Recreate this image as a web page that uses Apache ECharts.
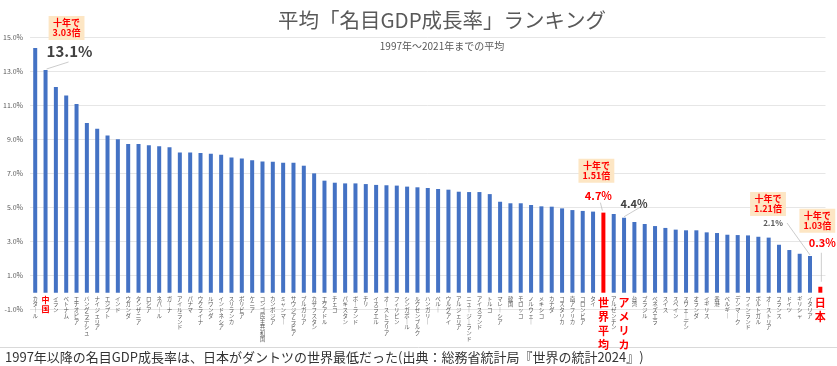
<!DOCTYPE html>
<html>
<head>
<meta charset="utf-8">
<script src="https://cdn.jsdelivr.net/npm/echarts@6/dist/echarts.min.js"></script>
<style>
html,body{margin:0;padding:0;background:#fff;}
#c{width:837px;height:366px;}
</style>
</head>
<body>
<div id="c"></div>
<script>
const categories = [
 'カタール','中国','イラン','ベトナム','エチオピア','バングラデシュ','ナイジェリア','エジプト','インド','ウガンダ',
 'タンザニア','ロシア','ネパール','ガーナ','アイルランド','パナマ','ウクライナ','ルワンダ','インドネシア','スリランカ',
 'ボリビア','ケニア','コンゴ民主共和国','カンボジア','ミャンマー','サウジアラビア','ブルガリア','カザフスタン','エクアドル','チェコ',
 'パキスタン','ポーランド','チリ','イスラエル','オーストラリア','フィリピン','シンガポール','ルクセンブルク','ハンガリー','ペルー',
 'ウルグアイ','アルジェリア','ニュージーランド','アイスランド','トルコ','マレーシア','韓国','モロッコ','ノルウェー','メキシコ',
 'カナダ','コスタリカ','南アフリカ','コロンビア','タイ','世界平均','アルゼンチン','アメリカ','台湾','ブラジル',
 'ベネズエラ','スイス','スペイン','スウェーデン','オランダ','イギリス','香港','ベルギー','デンマーク','フィンランド',
 'ポルトガル','オーストリア','フランス','ドイツ','ギリシャ','イタリア','日本'
];
const values = [
 14.4,13.1,12.1,11.6,11.1,9.98,9.65,9.24,9.02,8.75,
 8.75,8.67,8.61,8.55,8.24,8.24,8.22,8.18,8.12,7.96,
 7.90,7.79,7.72,7.70,7.65,7.65,7.47,7.02,6.59,6.47,
 6.43,6.43,6.39,6.34,6.32,6.30,6.24,6.20,6.16,6.10,
 6.06,5.94,5.92,5.92,5.80,5.35,5.26,5.26,5.16,5.08,
 5.06,4.96,4.86,4.81,4.77,4.71,4.63,4.41,4.16,4.04,
 3.92,3.81,3.71,3.67,3.67,3.55,3.51,3.41,3.39,3.37,
 3.29,3.24,2.82,2.51,2.29,2.16,0.35
];
const yTicks = [-1, 1, 3, 5, 7, 9, 11, 13, 15];
const redBars = ['世界平均', '日本'];
const redSmallLabels = ['中国'];
const redBigLabels = ['世界平均', 'アメリカ', '日本'];
const titleText = '平均「名目GDP成長率」ランキング';
const subTitleText = '1997年～2021年までの平均';
const captionText = '1997年以降の名目GDP成長率は、日本がダントツの世界最低だった(出典：総務省統計局『世界の統計2024』)';
// annotations: [category, value label, box text]
const notes = [
 {cat: '中国', label: '13.1%', box: '十年で\n3.03倍'},
 {cat: '世界平均', label: '4.7%', box: '十年で\n1.51倍'},
 {cat: 'アメリカ', label: '4.4%', box: null},
 {cat: 'イタリア', label: '2.1%', box: '十年で\n1.21倍'},
 {cat: '日本', label: '0.3%', box: '十年で\n1.03倍'}
];

const FONT = '"Noto Sans CJK JP", "Noto Sans", sans-serif';
const chart = echarts.init(document.getElementById('c'), null, {renderer: 'canvas'});

function vert(s) {
  return Array.from(s).map(c => c === 'ー' ? '｜' : c).join('\n');
}

chart.setOption({
  animation: false,
  backgroundColor: '#fff',
  textStyle: {fontFamily: FONT},
  title: [
    {text: titleText, left: 437, top: 5, textAlign: 'center',
     textStyle: {fontSize: 20.5, fontWeight: 'normal', color: '#595959', fontFamily: FONT}},
    {text: subTitleText, left: 437, top: 36, textAlign: 'center',
     textStyle: {fontSize: 10, fontWeight: 'normal', color: '#595959', fontFamily: FONT}}
  ],
  grid: {left: 29.8, right: 11.5, top: 37.7, bottom: 56.3, containLabel: false},
  xAxis: {
    type: 'category',
    data: categories,
    offset: 0,
    axisLine: {show: false, onZero: false},
    axisTick: {show: false},
    axisLabel: {
      interval: 0,
      margin: 3,
      verticalAlign: 'top',
      formatter: function (v) {
        const t = vert(v);
        if (redBigLabels.includes(v)) return '{b|' + t + '}';
        if (redSmallLabels.includes(v)) return '{r|' + t + '}';
        return '{s|' + t + '}';
      },
      rich: {
        s: {fontSize: 5.5, lineHeight: 5.7, color: '#595959', fontFamily: FONT},
        r: {fontSize: 8, lineHeight: 9, color: '#FF0000', fontWeight: 'bold', fontFamily: FONT},
        b: {fontSize: 11, lineHeight: 14, color: '#FF0000', fontWeight: 'bold', fontFamily: FONT}
      }
    }
  },
  yAxis: {
    type: 'value',
    min: yTicks[0],
    max: yTicks[yTicks.length - 1],
    interval: yTicks[1] - yTicks[0],
    axisLine: {show: false},
    axisTick: {show: false},
    splitLine: {lineStyle: {color: '#E6E6E6', width: 1}},
    axisLabel: {
      fontSize: 7, color: '#595959', margin: 7,
      formatter: v => v.toFixed(1) + '%'
    }
  },
  series: [{
    type: 'bar',
    barWidth: 4,
    data: values.map((v, i) => ({
      value: v,
      itemStyle: {color: redBars.includes(categories[i]) ? '#FF0000' : '#4472C4'}
    }))
  }]
});

// move the category axis (labels) up to the zero line, computed through the value axis
const yZero = chart.convertToPixel({yAxisIndex: 0}, 0);
const yBottom = chart.convertToPixel({yAxisIndex: 0}, yTicks[0]);
chart.setOption({xAxis: {offset: yZero - yBottom}});

// annotations positioned from data through the axes
const graphics = [];
function px(cat) {
  const i = categories.indexOf(cat);
  return chart.convertToPixel({xAxisIndex: 0, yAxisIndex: 0}, [i, values[i]]);
}
const layout = {
  '中国':   {box: [21, -42], lab: [24, -19], font: 'bold 15px', col: '#404040', line: [[1, -1], [23, -8]]},
  '世界平均': {box: [-7, -42], lab: [-5, -17], font: 'bold 11px', col: '#FF0000', line: [[-1, -2], [-3, -10]]},
  'アメリカ': {box: null, lab: [10, -14], font: 'bold 11px', col: '#404040', line: [[0, -1], [17, -11]]},
  'イタリア': {box: [-42, -52], lab: [-37, -33], font: 'bold 8px', col: '#595959', line: [[0, -1], [-23, -33]]},
  '日本':    {box: [-3, -66], lab: [2, -44], font: 'bold 11px', col: '#FF0000', line: [[1, -5], [1, -34]]}
};
notes.forEach(n => {
  const p = px(n.cat);
  const L = layout[n.cat];
  graphics.push({
    type: 'line', silent: true, z: 10,
    shape: {x1: p[0] + L.line[0][0], y1: p[1] + L.line[0][1], x2: p[0] + L.line[1][0], y2: p[1] + L.line[1][1]},
    style: {stroke: '#BFBFBF', lineWidth: 0.8}
  });
  graphics.push({
    type: 'text', silent: true, z: 11,
    x: p[0] + L.lab[0], y: p[1] + L.lab[1],
    style: {text: n.label, font: L.font + ' ' + FONT, fill: L.col, align: 'center', verticalAlign: 'middle'}
  });
  if (n.box) {
    graphics.push({
      type: 'text', silent: true, z: 11,
      x: p[0] + L.box[0], y: p[1] + L.box[1],
      style: {text: n.box, font: 'bold 9px ' + FONT, fill: '#FF0000', align: 'center', verticalAlign: 'middle',
              lineHeight: 10, backgroundColor: '#FDE6C4', padding: [2, 4, 2, 4]}
    });
  }
});
graphics.push({
  type: 'line', silent: true,
  shape: {x1: 0, y1: 347.5, x2: 837, y2: 347.5},
  style: {stroke: '#D9D9D9', lineWidth: 1}
});
graphics.push({
  type: 'text', silent: true,
  x: 5, y: 357,
  style: {text: captionText, font: '13px ' + FONT, fill: '#333333', align: 'left', verticalAlign: 'middle'}
});
chart.setOption({graphic: graphics});
</script>
</body>
</html>
